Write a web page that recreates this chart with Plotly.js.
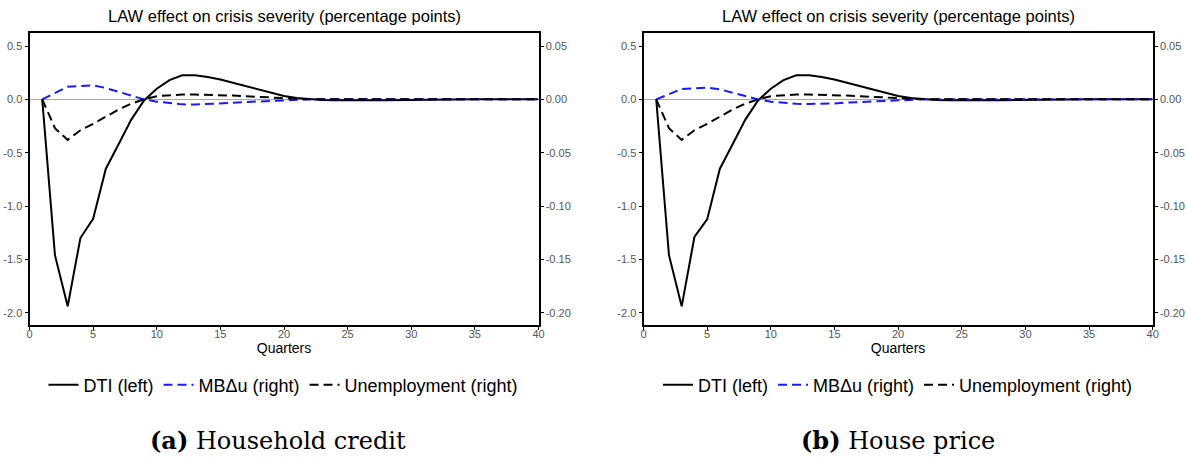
<!DOCTYPE html>
<html>
<head>
<meta charset="utf-8">
<script src="https://cdn.plot.ly/plotly-3.0.1.min.js"></script>
<style>
html,body{margin:0;padding:0;background:#fff;}
#chart{width:1187px;height:459px;}
</style>
</head>
<body>
<div id="chart"></div>
<script>
const quarters = [1,2,3,4,5,6,7,8,9,10,11,12,13,14,15,16,17,18,19,20,21,22,23,24,25,26,27,28,29,30,31,32,33,34,35,36,37,38,39,40];

const dtiA = [0.00,-1.46,-1.94,-1.30,-1.12,-0.65,-0.42,-0.19,-0.01,0.10,0.18,0.225,0.225,0.21,0.187,0.156,0.12,0.087,0.056,0.031,0.012,0.00,-0.005,-0.008,-0.01,-0.01,-0.009,-0.008,-0.006,-0.004,-0.003,-0.002,-0.001,0,0,0,0,0,0,0];
const mbA = [0,0.0056,0.0118,0.0125,0.0132,0.0106,0.0071,0.0037,0.0,-0.0022,-0.0037,-0.0047,-0.0048,-0.0045,-0.004,-0.0032,-0.0025,-0.0019,-0.0012,-0.0006,-0.0002,0,0,0,0,0,0,0,0,0,0,0,0,0,0,0,0,0,0,0];
const unA = [0,-0.027,-0.038,-0.029,-0.023,-0.016,-0.0095,-0.004,0.0,0.003,0.004,0.0045,0.0045,0.0043,0.004,0.0035,0.003,0.0022,0.0016,0.001,0.0005,0.0002,0,0,0,0,0,0,0,0,0,0,0,0,0,0,0,0,0,0];

const dtiB = [0.00,-1.46,-1.94,-1.29,-1.125,-0.65,-0.42,-0.19,-0.01,0.10,0.18,0.225,0.225,0.21,0.187,0.156,0.12,0.087,0.056,0.031,0.012,0.00,-0.005,-0.008,-0.01,-0.01,-0.009,-0.008,-0.006,-0.004,-0.003,-0.002,-0.001,0,0,0,0,0,0,0];
const mbB = [0,0.005,0.0097,0.0103,0.011,0.0094,0.0062,0.003,0.0,-0.0022,-0.0035,-0.0042,-0.0043,-0.0042,-0.0038,-0.003,-0.0024,-0.0018,-0.0011,-0.0005,-0.0002,0,0,0,0,0,0,0,0,0,0,0,0,0,0,0,0,0,0,0];
const unB = [0,-0.027,-0.038,-0.029,-0.023,-0.016,-0.0095,-0.004,0.0,0.003,0.004,0.0045,0.0045,0.0043,0.004,0.0035,0.003,0.0022,0.0016,0.001,0.0005,0.0002,0,0,0,0,0,0,0,0,0,0,0,0,0,0,0,0,0,0];

const seriesNames = ["DTI (left)", "MB\u0394u (right)", "Unemployment (right)"];
const panelTitle = "LAW effect on crisis severity (percentage points)";
const captions = ["<b>(a)</b> Household credit", "<b>(b)</b> House price"];
const xTitle = "Quarters";

const xTickVals = [0,5,10,15,20,25,30,35,40];
const leftTickVals = [0.5,0.0,-0.5,-1.0,-1.5,-2.0];
const leftTickText = ["0.5","0.0","-0.5","-1.0","-1.5","-2.0"];
const rightTickVals = [0.05,0.00,-0.05,-0.10,-0.15,-0.20];
const rightTickText = ["0.05","0.00","-0.05","-0.10","-0.15","-0.20"];

const FONT = "Liberation Sans, Arial, sans-serif";
const BLUE = "#1a1aff";
const dashPat = "9px,5px";

function mkTraces(dti, mb, un, xa, yl, yr, leg) {
  return [
    {x: quarters, y: dti, xaxis: xa, yaxis: yl, name: seriesNames[0], legend: leg, mode: "lines",
     line: {color: "#000", width: 2}},
    {x: quarters, y: mb, xaxis: xa, yaxis: yr, name: seriesNames[1], legend: leg, mode: "lines",
     line: {color: BLUE, width: 2, dash: dashPat}},
    {x: quarters, y: un, xaxis: xa, yaxis: yr, name: seriesNames[2], legend: leg, mode: "lines",
     line: {color: "#000", width: 2, dash: dashPat}}
  ];
}

const data = [].concat(
  mkTraces(dtiA, mbA, unA, "x", "y", "y2", "legend"),
  mkTraces(dtiB, mbB, unB, "x2", "y3", "y4", "legend2")
);

const W = 1187, H = 459;
const domA = [29.5/W, 538.5/W];
const domB = [643.5/W, 1152.7/W];
const domY = [1 - 325/H, 1 - 33/H];
const yLeftRange = [-2.115, 0.622];
const yRightRange = [-0.2115, 0.0622];

function xAxis(dom, anchor) {
  return {domain: dom, anchor: anchor, range: [0, 40], tickvals: xTickVals, ticks: "outside", ticklen: 3,
    tickcolor: "#000", showline: true, linecolor: "#000", linewidth: 2, mirror: true, showgrid: false,
    zeroline: false, ticklabelstandoff: -5, tickfont: {family: FONT, size: 11, color: "#555"},
    title: {text: xTitle, font: {family: FONT, size: 14, color: "#000"}, standoff: 0}};
}
function yLeft(anchor) {
  return {domain: domY, anchor: anchor, range: yLeftRange, tickvals: leftTickVals, ticktext: leftTickText,
    ticks: "outside", ticklen: 3, tickcolor: "#000", showline: true, linecolor: "#000", linewidth: 2,
    showgrid: false, zeroline: true, zerolinecolor: "#a8a8a8", zerolinewidth: 1,
    tickfont: {family: FONT, size: 11, color: "#555"}};
}
function yRight(anchor, over) {
  return {domain: domY, anchor: anchor, overlaying: over, side: "right", range: yRightRange,
    tickvals: rightTickVals, ticktext: rightTickText, ticks: "outside", ticklen: 3, tickcolor: "#000",
    showline: true, linecolor: "#000", linewidth: 2, showgrid: false, zeroline: false,
    tickfont: {family: FONT, size: 11, color: "#555"}};
}

function legendAt(xc) {
  return {orientation: "h", x: xc, xanchor: "center", y: 1 - 385/H, yanchor: "middle",
    font: {family: FONT, size: 18, color: "#000"}, bgcolor: "rgba(0,0,0,0)", itemclick: false,
    traceorder: "normal", tracegroupgap: 0, itemwidth: 30};
}

const layout = {
  width: W, height: H, margin: {l: 0, r: 0, t: 0, b: 0},
  paper_bgcolor: "#fff", plot_bgcolor: "#fff", showlegend: true,
  font: {family: FONT},
  xaxis: xAxis(domA, "y"), yaxis: yLeft("x"), yaxis2: yRight("x", "y"),
  xaxis2: xAxis(domB, "y3"), yaxis3: yLeft("x2"), yaxis4: yRight("x2", "y3"),
  legend: legendAt(283.5/W), legend2: legendAt(898/W),
  annotations: [
    {text: panelTitle, xref: "paper", yref: "paper", x: 284/W, y: 1 - 16/H, xanchor: "center", yanchor: "middle",
     showarrow: false, font: {family: FONT, size: 16.5, color: "#000"}},
    {text: panelTitle, xref: "paper", yref: "paper", x: 898/W, y: 1 - 16/H, xanchor: "center", yanchor: "middle",
     showarrow: false, font: {family: FONT, size: 16.5, color: "#000"}},
    {text: captions[0], xref: "paper", yref: "paper", x: 278/W, y: 1 - 440/H, xanchor: "center", yanchor: "middle",
     showarrow: false, font: {family: "DejaVu Serif, serif", size: 24, color: "#000"}},
    {text: captions[1], xref: "paper", yref: "paper", x: 898/W, y: 1 - 440/H, xanchor: "center", yanchor: "middle",
     showarrow: false, font: {family: "DejaVu Serif, serif", size: 24, color: "#000"}}
  ]
};

Plotly.newPlot("chart", data, layout, {staticPlot: true, displayModeBar: false});
</script>
</body>
</html>
